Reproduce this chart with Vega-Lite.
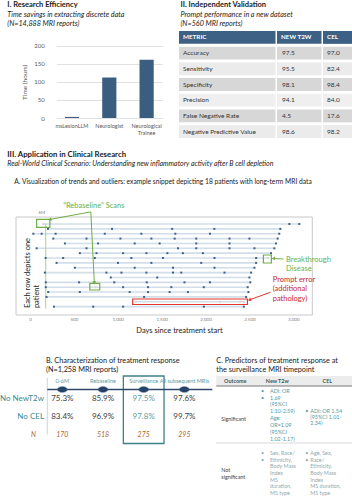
{
  "$schema": "https://vega.github.io/schema/vega-lite/v6.json",
  "background": "white",
  "padding": {"left": 0, "top": 1, "right": 0, "bottom": 0},
  "bounds": "flush",
  "spacing": 0,
  "config": {
    "font": "Lato",
    "view": {"stroke": null}
  },
  "datasets": {
    "titleI": [
      {"key": "t", "text": "I. Research Efficiency"},
      {"key": "s1", "text": "Time savings in extracting discrete data"},
      {"key": "s2", "text": "(N=14,888 MRI reports)"}
    ],
    "efficiency": [
      {"group": "msLesionLLM", "hours": 3},
      {"group": "Neurologist", "hours": 112},
      {"group": "Neurological Trainee", "hours": 161}
    ],
    "titleII": [
      {"key": "t", "text": "II. Independent Validation"},
      {"key": "s1", "text": "Prompt performance in a new dataset"},
      {"key": "s2", "text": "(N=560 MRI reports)"}
    ],
    "validation": [
      {"metric": "METRIC", "t2w": "NEW T2W", "cel": "CEL"},
      {"metric": "Accuracy", "t2w": "97.5", "cel": "97.0"},
      {"metric": "Sensitivity", "t2w": "95.5", "cel": "82.4"},
      {"metric": "Specificity", "t2w": "98.1", "cel": "98.4"},
      {"metric": "Precision", "t2w": "94.1", "cel": "84.0"},
      {"metric": "False Negative Rate", "t2w": "4.5", "cel": "17.6"},
      {"metric": "Negative Predictive Value", "t2w": "98.6", "cel": "98.2"}
    ],
    "headings": [
      {"key": "III", "text": "III. Application in Clinical Research"},
      {"key": "RW", "text": "Real-World Clinical Scenario: Understanding new inflammatory activity after B cell depletion"},
      {"key": "A", "text": "A. Visualization of trends and outliers: example snippet depicting 18 patients with long-term MRI data"}
    ],
    "scans": [
      {"row": 1, "day": 150, "status": "New T2w"}, {"row": 1, "day": 2955, "status": "No new T2w"}, {"row": 1, "day": 3068, "status": "No new T2w"},
      {"row": 2, "day": 205, "status": "No new T2w"}, {"row": 2, "day": 935, "status": "No new T2w"}, {"row": 2, "day": 1620, "status": "No new T2w"}, {"row": 2, "day": 2100, "status": "No new T2w"}, {"row": 2, "day": 2852, "status": "No new T2w"},
      {"row": 3, "day": 38, "status": "No new T2w"}, {"row": 3, "day": 133, "status": "No new T2w"}, {"row": 3, "day": 292, "status": "No new T2w"}, {"row": 3, "day": 852, "status": "No new T2w"}, {"row": 3, "day": 1269, "status": "No new T2w"}, {"row": 3, "day": 1656, "status": "No new T2w"}, {"row": 3, "day": 2050, "status": "No new T2w"}, {"row": 3, "day": 2840, "status": "No new T2w"},
      {"row": 4, "day": 265, "status": "No new T2w"}, {"row": 4, "day": 644, "status": "No new T2w"}, {"row": 4, "day": 1030, "status": "No new T2w"}, {"row": 4, "day": 1383, "status": "No new T2w"}, {"row": 4, "day": 1648, "status": "No new T2w"}, {"row": 4, "day": 1894, "status": "No new T2w"}, {"row": 4, "day": 2273, "status": "No new T2w"}, {"row": 4, "day": 2500, "status": "No new T2w"}, {"row": 4, "day": 2822, "status": "No new T2w"},
      {"row": 5, "day": 398, "status": "No new T2w"}, {"row": 5, "day": 776, "status": "No new T2w"}, {"row": 5, "day": 1193, "status": "No new T2w"}, {"row": 5, "day": 1477, "status": "No new T2w"}, {"row": 5, "day": 1894, "status": "No new T2w"}, {"row": 5, "day": 2273, "status": "No new T2w"}, {"row": 5, "day": 2803, "status": "No new T2w"},
      {"row": 6, "day": 76, "status": "No new T2w"}, {"row": 6, "day": 644, "status": "No new T2w"}, {"row": 6, "day": 1686, "status": "No new T2w"}, {"row": 6, "day": 1894, "status": "No new T2w"}, {"row": 6, "day": 2273, "status": "No new T2w"}, {"row": 6, "day": 2557, "status": "No new T2w"}, {"row": 6, "day": 2784, "status": "No new T2w"},
      {"row": 7, "day": 568, "status": "No new T2w"}, {"row": 7, "day": 758, "status": "No new T2w"}, {"row": 7, "day": 1061, "status": "No new T2w"}, {"row": 7, "day": 1326, "status": "No new T2w"}, {"row": 7, "day": 1565, "status": "No new T2w"}, {"row": 7, "day": 1742, "status": "No new T2w"}, {"row": 7, "day": 1970, "status": "No new T2w"}, {"row": 7, "day": 2746, "status": "No new T2w"},
      {"row": 8, "day": 178, "status": "No new T2w"}, {"row": 8, "day": 378, "status": "No new T2w"}, {"row": 8, "day": 739, "status": "No new T2w"}, {"row": 8, "day": 1155, "status": "No new T2w"}, {"row": 8, "day": 1515, "status": "No new T2w"}, {"row": 8, "day": 2102, "status": "No new T2w"}, {"row": 8, "day": 2576, "status": "No new T2w"}, {"row": 8, "day": 2716, "status": "New T2w"},
      {"row": 9, "day": 303, "status": "No new T2w"}, {"row": 9, "day": 1003, "status": "No new T2w"}, {"row": 9, "day": 1383, "status": "No new T2w"}, {"row": 9, "day": 1951, "status": "No new T2w"}, {"row": 9, "day": 2576, "status": "No new T2w"},
      {"row": 10, "day": 511, "status": "No new T2w"}, {"row": 10, "day": 1193, "status": "No new T2w"}, {"row": 10, "day": 1629, "status": "No new T2w"}, {"row": 10, "day": 2102, "status": "No new T2w"}, {"row": 10, "day": 2557, "status": "No new T2w"},
      {"row": 11, "day": 170, "status": "No new T2w"}, {"row": 11, "day": 871, "status": "No new T2w"}, {"row": 11, "day": 1042, "status": "No new T2w"}, {"row": 11, "day": 1326, "status": "No new T2w"}, {"row": 11, "day": 1629, "status": "No new T2w"}, {"row": 11, "day": 1723, "status": "No new T2w"}, {"row": 11, "day": 2216, "status": "No new T2w"}, {"row": 11, "day": 2519, "status": "No new T2w"},
      {"row": 12, "day": 920, "status": "No new T2w"}, {"row": 12, "day": 1450, "status": "No new T2w"}, {"row": 12, "day": 2500, "status": "No new T2w"},
      {"row": 13, "day": 180, "status": "No new T2w"}, {"row": 13, "day": 560, "status": "No new T2w"}, {"row": 13, "day": 960, "status": "No new T2w"}, {"row": 13, "day": 1330, "status": "No new T2w"}, {"row": 13, "day": 1760, "status": "No new T2w"}, {"row": 13, "day": 2050, "status": "No new T2w"}, {"row": 13, "day": 2510, "status": "No new T2w"},
      {"row": 14, "day": 180, "status": "No new T2w"}, {"row": 14, "day": 746, "status": "New T2w"}, {"row": 14, "day": 1061, "status": "No new T2w"}, {"row": 14, "day": 1345, "status": "No new T2w"}, {"row": 14, "day": 1610, "status": "No new T2w"}, {"row": 14, "day": 1980, "status": "No new T2w"}, {"row": 14, "day": 2480, "status": "No new T2w"},
      {"row": 15, "day": 208, "status": "No new T2w"}, {"row": 15, "day": 568, "status": "No new T2w"}, {"row": 15, "day": 1136, "status": "No new T2w"}, {"row": 15, "day": 1345, "status": "No new T2w"}, {"row": 15, "day": 1591, "status": "No new T2w"}, {"row": 15, "day": 1799, "status": "No new T2w"}, {"row": 15, "day": 2489, "status": "No new T2w"},
      {"row": 16, "day": 189, "status": "No new T2w"}, {"row": 16, "day": 1300, "status": "No new T2w"}, {"row": 16, "day": 2462, "status": "No new T2w"},
      {"row": 17, "day": 1205, "status": "New T2w"}, {"row": 17, "day": 2167, "status": "New T2w"}, {"row": 17, "day": 2394, "status": "New T2w"}, {"row": 17, "day": 2436, "status": "New T2w"},
      {"row": 18, "day": 273, "status": "No new T2w"}, {"row": 18, "day": 720, "status": "No new T2w"}, {"row": 18, "day": 1061, "status": "No new T2w"}, {"row": 18, "day": 1981, "status": "No new T2w"}, {"row": 18, "day": 2436, "status": "No new T2w"}
    ],
    "sixMonth": [{"day": 180, "row": 0.9, "row2": 18.4}],
    "boxes": [
      {"kind": "green", "day": 76, "day2": 227, "row": 0.03, "row2": 1.68},
      {"kind": "green", "day": 682, "day2": 795, "row": 13.2, "row2": 14.58},
      {"kind": "green", "day": 2659, "day2": 2750, "row": 7.38, "row2": 9.02},
      {"kind": "red", "day": 1170, "day2": 2477, "row": 16.43, "row2": 17.56}
    ],
    "arrows": [
      {"id": 1, "kind": "green", "day": 227, "row": 0.07, "day2": 693, "row2": -1.5},
      {"id": 2, "kind": "green", "day": 733, "row": 13.1, "day2": 693, "row2": -1.5},
      {"id": 3, "kind": "green", "day": 2773, "row": 8.1, "day2": 2886, "row2": 8.2},
      {"id": 4, "kind": "red", "day": 2500, "row": 16.6, "day2": 2739, "row2": 15.05}
    ],
    "calloutsCenter": [
      {"label": "“Rebaseline” Scans", "kind": "green", "day": 727, "row": -2.78},
      {"label": "6M", "kind": "grey", "day": 136, "row": -1.26}
    ],
    "calloutsLeft": [
      {"label": "Breakthrough", "kind": "green", "day": 2917, "row": 8.41},
      {"label": "Disease", "kind": "green", "day": 2917, "row": 10.32},
      {"label": "Prompt error", "kind": "red", "day": 2765, "row": 12.52},
      {"label": "(additional", "kind": "red", "day": 2765, "row": 14.44},
      {"label": "pathology)", "kind": "red", "day": 2765, "row": 16.43}
    ],
    "rowLabel": [
      {"label": "Each row depicts one", "day": -23, "row": 18.3},
      {"label": "patient", "day": 80, "row": 18.3}
    ],
    "titleB": [
      {"key": "l1", "text": "B. Characterization of treatment response"},
      {"key": "l2", "text": "(N=1,258 MRI reports)"}
    ],
    "response": [
      {"period": "0-6M", "noNewT2w": 0.753, "noCEL": 0.834, "n": 170},
      {"period": "Rebaseline", "noNewT2w": 0.859, "noCEL": 0.969, "n": 518},
      {"period": "Surveillance", "noNewT2w": 0.975, "noCEL": 0.978, "n": 275},
      {"period": "All subsequent MRIs", "noNewT2w": 0.976, "noCEL": 0.997, "n": 295}
    ],
    "responseRows": [{"label": "No NewT2w"}, {"label": "No CEL"}],
    "titleC": [
      {"key": "l1", "text": "C. Predictors of treatment response at"},
      {"key": "l2", "text": "the surveillance MRI timepoint"}
    ],
    "predHeads": [{"col": "Outcome"}, {"col": "New T2w"}, {"col": "CEL"}],
    "predictors": [
      {"outcome": "Significant", "label": "Significant", "t2w": "ADI: OR\n1.69\n(95%CI\n1.10-2.59)\nAge:\nOR=1.09\n(95%CI\n1.02-1.17)", "t2wBullets": "•\n\n\n\n•\n\n\n", "cel": "ADI: OR 1.54\n(95%CI 1.01-\n2.34)", "celBullets": "•\n\n"},
      {"outcome": "Not significant", "label": "Not\nsignificant", "t2w": "Sex, Race/\nEthnicity,\nBody Mass\nIndex\nMS\nduration,\nMS type", "t2wBullets": "•\n\n\n\n•\n\n", "cel": "Age, Sex,\nRace/\nEthnicity,\nBody Mass\nIndex\nMS duration,\nMS type", "celBullets": "•\n\n\n\n\n•\n"}
    ]
  },
  "vconcat": [
    {
      "width": 338.3,
      "height": 107,
      "resolve": {"scale": {"x": "independent", "y": "independent"}, "axis": {"x": "independent", "y": "independent"}},
      "layer": [
        {
          "data": {"name": "efficiency"},
          "mark": {"type": "bar", "color": "#3b5d7f"},
          "encoding": {
            "x": {"field": "group", "type": "nominal", "sort": null, "scale": {"range": [40.3, 146.3], "paddingInner": 0.62, "paddingOuter": 0.23},
              "axis": {"orient": "bottom", "title": null, "labelAngle": 0, "ticks": false, "domain": false, "labelFontSize": 5.5, "labelColor": "#595959", "labelPadding": 5, "labelLineHeight": 7, "offset": -20, "labelExpr": "datum.value == 'Neurological Trainee' ? ['Neurological', 'Trainee'] : datum.label"}},
            "y": {"field": "hours", "type": "quantitative", "scale": {"domain": [0, 200], "range": [87, 14.7]},
              "axis": {"orient": "left", "values": [0, 50, 100, 150, 200], "offset": -40.3, "title": "Time (hours)", "titleFontSize": 6.5, "titleFontWeight": "normal", "titleColor": "#595959", "titlePadding": 6, "domain": false, "ticks": false, "labelFontSize": 6, "labelColor": "#595959", "labelPadding": 12, "gridColor": "#d9d9d9", "gridWidth": 0.8}}
          }
        },
        {
          "data": {"name": "titleI"},
          "encoding": {
            "x": {"datum": "I", "type": "nominal", "bandPosition": 0, "scale": {"type": "band", "range": [0, 163], "paddingInner": 0, "paddingOuter": 0}, "axis": null},
            "y": {"field": "key", "type": "nominal", "scale": {"type": "band", "domain": ["t", "s1", "s2"], "range": [-30.75, -2.25], "paddingInner": 0, "paddingOuter": 0}, "axis": null},
            "text": {"field": "text"}
          },
          "layer": [
            {"transform": [{"filter": "datum.key == 't'"}], "mark": {"type": "text", "align": "left", "baseline": "middle", "dx": -8.7, "fontSize": 7.5, "fontWeight": "bold", "color": "#1a1a1a"}},
            {"transform": [{"filter": "datum.key != 't'"}], "mark": {"type": "text", "align": "left", "baseline": "middle", "dx": -8.7, "fontSize": 7.2, "fontStyle": "italic", "color": "#1a1a1a"}}
          ]
        },
        {
          "data": {"name": "validation"},
          "encoding": {
            "x": {"datum": "METRIC", "type": "nominal", "scale": {"range": [163, 259.5], "paddingInner": 0, "paddingOuter": 0}, "axis": null},
            "y": {"field": "metric", "type": "nominal", "sort": null, "scale": {"domain": ["METRIC", "Accuracy", "Sensitivity", "Specificity", "Precision", "False Negative Rate", "Negative Predictive Value"], "paddingInner": 0.18, "paddingOuter": 0}, "axis": null}
          },
          "layer": [
            {"mark": {"type": "rect"}, "encoding": {"color": {"field": "metric", "type": "nominal", "scale": {"domain": ["METRIC", "Accuracy", "Sensitivity", "Specificity", "Precision", "False Negative Rate", "Negative Predictive Value"], "range": ["#3d6185", "#d7d7d7", "#ebebeb", "#d7d7d7", "#efefef", "#d7d7d7", "#ebebeb"]}, "legend": null}}},
            {"transform": [{"filter": "datum.metric == 'METRIC'"}], "mark": {"type": "text", "align": "left", "dx": 4, "fontSize": 6.3, "fontWeight": "bold", "color": "white"}, "encoding": {"x": {"datum": "METRIC", "type": "nominal", "bandPosition": 0}, "text": {"field": "metric"}}},
            {"transform": [{"filter": "datum.metric != 'METRIC'"}], "mark": {"type": "text", "align": "left", "dx": 4, "fontSize": 6.5, "color": "#333333"}, "encoding": {"x": {"datum": "METRIC", "type": "nominal", "bandPosition": 0}, "text": {"field": "metric"}}}
          ]
        },
        {
          "data": {"name": "validation"},
          "encoding": {
            "x": {"datum": "NEW T2W", "type": "nominal", "scale": {"range": [261, 305.5], "paddingInner": 0, "paddingOuter": 0}, "axis": null},
            "y": {"field": "metric", "type": "nominal", "sort": null, "scale": {"domain": ["METRIC", "Accuracy", "Sensitivity", "Specificity", "Precision", "False Negative Rate", "Negative Predictive Value"], "paddingInner": 0.18, "paddingOuter": 0}, "axis": null}
          },
          "layer": [
            {"mark": {"type": "rect"}, "encoding": {"color": {"field": "metric", "type": "nominal", "scale": {"domain": ["METRIC", "Accuracy", "Sensitivity", "Specificity", "Precision", "False Negative Rate", "Negative Predictive Value"], "range": ["#3d6185", "#d7d7d7", "#ebebeb", "#d7d7d7", "#efefef", "#d7d7d7", "#ebebeb"]}, "legend": null}}},
            {"transform": [{"filter": "datum.metric == 'METRIC'"}], "mark": {"type": "text", "align": "left", "dx": 4, "fontSize": 6.3, "fontWeight": "bold", "color": "white"}, "encoding": {"x": {"datum": "NEW T2W", "type": "nominal", "bandPosition": 0}, "text": {"field": "t2w"}}},
            {"transform": [{"filter": "datum.metric != 'METRIC'"}], "mark": {"type": "text", "align": "left", "dx": 5, "fontSize": 6.5, "color": "#333333"}, "encoding": {"x": {"datum": "NEW T2W", "type": "nominal", "bandPosition": 0}, "text": {"field": "t2w"}}}
          ]
        },
        {
          "data": {"name": "validation"},
          "encoding": {
            "x": {"datum": "CEL", "type": "nominal", "scale": {"range": [307, 336], "paddingInner": 0, "paddingOuter": 0}, "axis": null},
            "y": {"field": "metric", "type": "nominal", "sort": null, "scale": {"domain": ["METRIC", "Accuracy", "Sensitivity", "Specificity", "Precision", "False Negative Rate", "Negative Predictive Value"], "paddingInner": 0.18, "paddingOuter": 0}, "axis": null}
          },
          "layer": [
            {"mark": {"type": "rect"}, "encoding": {"color": {"field": "metric", "type": "nominal", "scale": {"domain": ["METRIC", "Accuracy", "Sensitivity", "Specificity", "Precision", "False Negative Rate", "Negative Predictive Value"], "range": ["#3d6185", "#d7d7d7", "#ebebeb", "#d7d7d7", "#efefef", "#d7d7d7", "#ebebeb"]}, "legend": null}}},
            {"transform": [{"filter": "datum.metric == 'METRIC'"}], "mark": {"type": "text", "align": "left", "dx": 4, "fontSize": 6.3, "fontWeight": "bold", "color": "white"}, "encoding": {"x": {"datum": "CEL", "type": "nominal", "bandPosition": 0}, "text": {"field": "cel"}}},
            {"transform": [{"filter": "datum.metric != 'METRIC'"}], "mark": {"type": "text", "align": "left", "dx": 4, "fontSize": 6.5, "color": "#333333"}, "encoding": {"x": {"datum": "CEL", "type": "nominal", "bandPosition": 0}, "text": {"field": "cel"}}}
          ]
        },
        {
          "data": {"name": "titleII"},
          "encoding": {
            "x": {"datum": "II", "type": "nominal", "bandPosition": 0, "scale": {"type": "band", "range": [163, 338.3], "paddingInner": 0, "paddingOuter": 0}, "axis": null},
            "y": {"field": "key", "type": "nominal", "scale": {"type": "band", "domain": ["t", "s1", "s2"], "range": [-30.75, -2.25], "paddingInner": 0, "paddingOuter": 0}, "axis": null},
            "text": {"field": "text"}
          },
          "layer": [
            {"transform": [{"filter": "datum.key == 't'"}], "mark": {"type": "text", "align": "left", "baseline": "middle", "dx": 1.5, "fontSize": 7.5, "fontWeight": "bold", "color": "#1a1a1a"}},
            {"transform": [{"filter": "datum.key != 't'"}], "mark": {"type": "text", "align": "left", "baseline": "middle", "dx": 1.5, "fontSize": 7.2, "fontStyle": "italic", "color": "#1a1a1a"}}
          ]
        }
      ]
    },
    {
      "width": 296.3,
      "height": 238,
      "resolve": {"scale": {"x": "independent", "y": "independent"}, "axis": {"x": "independent", "y": "independent"}},
      "layer": [
        {
          "encoding": {
            "x": {"field": "day", "type": "quantitative", "scale": {"domain": [-159, 3216], "nice": false, "zero": false},
              "axis": {"orient": "bottom", "values": [0, 500, 1000, 1500, 2000, 2500, 3000], "offset": -61, "ticks": false, "domain": false, "grid": false, "labelFontSize": 4.5, "labelColor": "#808080", "labelPadding": 1, "title": "Days since treatment start", "titleFontSize": 7.5, "titleFontWeight": "normal", "titleColor": "#1a1a1a", "titlePadding": 6, "titleX": 163}},
            "y": {"field": "row", "type": "quantitative", "scale": {"domain": [-0.44, 19.72], "range": [79, 177], "nice": false, "zero": false}, "axis": null}
          },
          "layer": [
            {"data": {"name": "sixMonth"}, "mark": {"type": "rect", "fillOpacity": 0, "stroke": "#c8c8c8", "strokeWidth": 1},
             "encoding": {"x": {"datum": -159}, "x2": {"datum": 3216}, "y": {"datum": -0.44}, "y2": {"datum": 19.72}}},
            {"data": {"name": "scans"}, "transform": [{"aggregate": [{"op": "min", "field": "day", "as": "day"}, {"op": "max", "field": "day", "as": "day2"}], "groupby": ["row"]}],
             "mark": {"type": "rule", "color": "#d3deeb", "strokeWidth": 1.6}, "encoding": {"x2": {"field": "day2"}}},
            {"data": {"name": "sixMonth"}, "mark": {"type": "rule", "color": "#a9d18e", "strokeWidth": 1}, "encoding": {"y2": {"field": "row2"}}},
            {"data": {"name": "scans"}, "mark": {"type": "point", "shape": "square", "filled": true, "size": 4, "opacity": 1},
             "encoding": {"color": {"field": "status", "type": "nominal", "scale": {"domain": ["No new T2w", "New T2w"], "range": ["#4472c4", "#ed7d31"]},
               "legend": {"title": null, "orient": "none", "legendX": 270, "legendY": 92, "strokeColor": "#333333", "fillColor": "white", "padding": 3, "symbolType": "square", "symbolSize": 6, "labelFontSize": 6, "labelColor": "#222222", "rowPadding": 0, "symbolStrokeWidth": 0}}}},
            {"data": {"name": "boxes"}, "mark": {"type": "rect", "fillOpacity": 0, "strokeWidth": 1.2},
             "encoding": {"x2": {"field": "day2"}, "y2": {"field": "row2"}, "stroke": {"condition": {"test": "datum.kind == 'red'", "value": "#e0362c"}, "value": "#70ad47"}}},
            {"data": {"name": "arrows"}, "mark": {"type": "rule", "strokeWidth": 1},
             "encoding": {"x2": {"field": "day2"}, "y2": {"field": "row2"}, "color": {"condition": {"test": "datum.kind == 'red'", "value": "#e0362c"}, "value": "#70ad47"}}},
            {"data": {"name": "arrows"}, "mark": {"type": "point", "shape": "triangle-up", "filled": true, "size": 14, "opacity": 1},
             "encoding": {"angle": {"condition": [{"test": "datum.id == 1", "value": 259}, {"test": "datum.id == 2", "value": 177}, {"test": "datum.id == 3", "value": 267}], "value": 250},
               "color": {"condition": {"test": "datum.kind == 'red'", "value": "#e0362c"}, "value": "#70ad47"}}},
            {"data": {"name": "calloutsCenter"}, "mark": {"type": "text", "align": "center", "baseline": "middle"},
             "encoding": {"text": {"field": "label"}, "size": {"condition": {"test": "datum.kind == 'grey'", "value": 4.5}, "value": 7.5}, "color": {"condition": {"test": "datum.kind == 'grey'", "value": "#808080"}, "value": "#62b14f"}}},
            {"data": {"name": "calloutsLeft"}, "mark": {"type": "text", "align": "left", "baseline": "middle", "fontSize": 7.5},
             "encoding": {"text": {"field": "label"}, "color": {"condition": {"test": "datum.kind == 'red'", "value": "#c7262e"}, "value": "#62b14f"}}},
            {"data": {"name": "rowLabel"}, "mark": {"type": "text", "align": "left", "baseline": "middle", "angle": 270, "fontSize": 7.5, "color": "#1a1a1a"},
             "encoding": {"text": {"field": "label"}}}
          ]
        },
        {
          "data": {"name": "headings"},
          "encoding": {
            "x": {"datum": 0, "type": "quantitative", "scale": {"domain": [0, 1]}, "axis": null},
            "y": {"field": "key", "type": "nominal", "scale": {"type": "band", "domain": ["III", "RW", "_gap", "A"], "range": [12.5, 48], "paddingInner": 0, "paddingOuter": 0}, "axis": null},
            "text": {"field": "text"}
          },
          "layer": [
            {"transform": [{"filter": "datum.key == 'III'"}], "mark": {"type": "text", "align": "left", "baseline": "middle", "dx": -8.7, "fontSize": 7.8, "fontWeight": "bold", "color": "#1a1a1a"}},
            {"transform": [{"filter": "datum.key == 'RW'"}], "mark": {"type": "text", "align": "left", "baseline": "middle", "dx": -8.7, "fontSize": 7, "fontStyle": "italic", "color": "#1a1a1a"}},
            {"transform": [{"filter": "datum.key == 'A'"}], "mark": {"type": "text", "align": "left", "baseline": "middle", "dx": -1.7, "fontSize": 6.7, "color": "#1a1a1a"}}
          ]
        }
      ]
    },
    {
      "width": 338.3,
      "height": 124,
      "resolve": {"scale": {"x": "independent", "y": "independent"}, "axis": {"x": "independent", "y": "independent"}},
      "layer": [
        {
          "data": {"name": "response"},
          "encoding": {
            "x": {"field": "period", "type": "nominal", "sort": null, "scale": {"domain": ["0-6M", "Rebaseline", "Surveillance", "All subsequent MRIs"], "range": [26, 188.7], "paddingInner": 0, "paddingOuter": 0}, "axis": null}
          },
          "layer": [
            {"transform": [{"filter": "datum.period == 'Surveillance'"}], "mark": {"type": "rect", "fillOpacity": 0, "stroke": "#3f8087", "strokeWidth": 1.3},
             "encoding": {"y": {"datum": "header", "bandPosition": 0, "scale": {"domain": ["header", "track", "No NewT2w", "_a", "No CEL", "_b", "N", "_e"], "range": [0, 72], "paddingInner": 0, "paddingOuter": 0}, "axis": null}, "y2": {"datum": "_e"}}},
            {"mark": {"type": "point", "shape": "M -1 0 A 1 0.6 0 1 1 1 0 A 1 0.6 0 1 1 -1 0 Z", "filled": true, "size": 100, "color": "#1f3d5f", "stroke": "#8aa4bd", "strokeWidth": 0.6, "opacity": 1},
             "encoding": {"y": {"datum": "track"}}},
            {"mark": {"type": "text", "fontSize": 5.5, "color": "#5a9ca3"}, "encoding": {"y": {"datum": "header"}, "text": {"field": "period"}}},
            {"data": {"name": "responseRows"}, "mark": {"type": "text", "align": "right", "dx": 2, "fontSize": 8, "color": "#3a8a92"},
             "encoding": {"x": {"datum": "0-6M", "bandPosition": 0}, "y": {"field": "label", "type": "nominal"}, "text": {"field": "label"}}},
            {"transform": [{"filter": "datum.period == '0-6M'"}], "mark": {"type": "text", "align": "right", "dx": -6, "fontSize": 7, "fontStyle": "italic", "color": "#b2652f"},
             "encoding": {"x": {"datum": "0-6M", "bandPosition": 0}, "y": {"datum": "N"}, "text": {"value": "N"}}},
            {"mark": {"type": "text", "fontSize": 8},
             "encoding": {"y": {"datum": "No NewT2w"}, "text": {"field": "noNewT2w", "format": ".1%"}, "color": {"condition": {"test": "datum.period == 'Surveillance'", "value": "#5b9ea6"}, "value": "#404040"}}},
            {"mark": {"type": "text", "fontSize": 8},
             "encoding": {"y": {"datum": "No CEL"}, "text": {"field": "noCEL", "format": ".1%"}, "color": {"condition": {"test": "datum.period == 'Surveillance'", "value": "#5b9ea6"}, "value": "#404040"}}},
            {"mark": {"type": "text", "fontSize": 7, "fontStyle": "italic", "color": "#b2652f"},
             "encoding": {"y": {"datum": "N"}, "text": {"field": "n"}}}
          ]
        },
        {
          "data": {"name": "response"},
          "transform": [{"filter": "datum.period == '0-6M'"}],
          "encoding": {
            "x": {"datum": 0, "type": "quantitative", "scale": {"domain": [0, 1], "range": [31.3, 196.3]}, "axis": null}
          },
          "layer": [
            {"mark": {"type": "rule", "color": "#c9d6e3", "strokeWidth": 1},
             "encoding": {"y": {"datum": "header", "bandPosition": 0.2, "scale": {"domain": ["header", "track", "No NewT2w", "_a", "No CEL", "_b", "N", "_e"], "range": [0, 72], "paddingInner": 0, "paddingOuter": 0}, "axis": null}, "y2": {"datum": "N"}}},
            {"mark": {"type": "rule", "color": "#2d4a6a", "strokeWidth": 1.5},
             "encoding": {"x2": {"datum": 1}, "y": {"datum": "track"}}}
          ]
        },
        {
          "data": {"name": "titleB"},
          "mark": {"type": "text", "align": "left", "baseline": "middle", "dx": 30, "fontSize": 7.3, "color": "#1a1a1a"},
          "encoding": {
            "x": {"datum": "B", "type": "nominal", "bandPosition": 0, "scale": {"type": "band", "range": [0, 200], "paddingInner": 0, "paddingOuter": 0}, "axis": null},
            "y": {"field": "key", "type": "nominal", "scale": {"type": "band", "domain": ["l1", "l2"], "range": [-19.5, -1.5], "paddingInner": 0, "paddingOuter": 0}, "axis": null},
            "text": {"field": "text"}
          }
        },
        {
          "encoding": {
            "x": {"datum": 0, "type": "quantitative", "scale": {"domain": [0, 1], "range": [200.3, 338.3]}, "axis": null},
            "x2": {"datum": 1}
          },
          "resolve": {"scale": {"y": "independent"}},
          "layer": [
            {"data": {"name": "predHeads"}, "transform": [{"filter": "datum.col == 'Outcome'"}], "mark": {"type": "rect", "color": "#ececec"},
             "encoding": {"y": {"datum": "header", "type": "nominal", "scale": {"type": "band", "domain": ["header"], "range": [0, 10], "paddingInner": 0, "paddingOuter": 0}, "axis": null}}},
            {"data": {"name": "predictors"}, "mark": {"type": "rule", "strokeWidth": 0.8},
             "encoding": {"y": {"field": "outcome", "type": "nominal", "bandPosition": 0, "scale": {"type": "band", "domain": ["Significant", "Not significant"], "range": [10, 124], "paddingInner": 0, "paddingOuter": 0}, "axis": null},
               "color": {"condition": {"test": "datum.outcome == 'Significant'", "value": "#555555"}, "value": "#d0d0d0"}}}
          ]
        },
        {
          "resolve": {"scale": {"y": "independent"}},
          "encoding": {"x": {"datum": "Outcome", "type": "nominal", "scale": {"type": "band", "range": [200.3, 238.3], "paddingInner": 0, "paddingOuter": 0}, "axis": null}},
          "layer": [
            {"data": {"name": "predHeads"}, "transform": [{"filter": "datum.col == 'Outcome'"}], "mark": {"type": "text", "fontWeight": "bold", "fontSize": 5.4, "color": "#2f5e6b"},
             "encoding": {"y": {"field": "col", "type": "nominal", "scale": {"type": "band", "range": [0, 10], "paddingInner": 0, "paddingOuter": 0}, "axis": null}, "text": {"field": "col"}}},
            {"data": {"name": "predictors"}, "transform": [{"filter": "datum.outcome == 'Significant'"}],
             "mark": {"type": "text", "align": "left", "baseline": "middle", "lineBreak": "\n", "fontSize": 5.4, "lineHeight": 7, "dx": 5, "dy": 33, "color": "#404040"},
             "encoding": {"x": {"datum": "Outcome", "type": "nominal", "bandPosition": 0}, "y": {"field": "outcome", "type": "nominal", "bandPosition": 0, "scale": {"type": "band", "domain": ["Significant", "Not significant"], "range": [10, 124], "paddingInner": 0, "paddingOuter": 0}, "axis": null}, "text": {"field": "label"}}},
            {"data": {"name": "predictors"}, "transform": [{"filter": "datum.outcome == 'Not significant'"}],
             "mark": {"type": "text", "align": "left", "baseline": "middle", "lineBreak": "\n", "fontSize": 5.4, "lineHeight": 7, "dx": 5, "dy": 27, "color": "#404040"},
             "encoding": {"x": {"datum": "Outcome", "type": "nominal", "bandPosition": 0}, "y": {"field": "outcome", "type": "nominal", "bandPosition": 0, "scale": {"type": "band", "domain": ["Significant", "Not significant"], "range": [10, 124], "paddingInner": 0, "paddingOuter": 0}, "axis": null}, "text": {"field": "label"}}}
          ]
        },
        {
          "resolve": {"scale": {"y": "independent"}},
          "encoding": {"x": {"datum": "New T2w", "type": "nominal", "scale": {"type": "band", "range": [238.3, 284.3], "paddingInner": 0, "paddingOuter": 0}, "axis": null}},
          "layer": [
            {"data": {"name": "predHeads"}, "transform": [{"filter": "datum.col == 'New T2w'"}], "mark": {"type": "text", "fontWeight": "bold", "fontSize": 5.4, "color": "#2f5e6b"},
             "encoding": {"y": {"field": "col", "type": "nominal", "scale": {"type": "band", "range": [0, 10], "paddingInner": 0, "paddingOuter": 0}, "axis": null}, "text": {"field": "col"}}},
            {"data": {"name": "predictors"}, "transform": [{"filter": "datum.outcome == 'Significant'"}],
             "mark": {"type": "text", "align": "left", "baseline": "middle", "lineBreak": "\n", "fontSize": 5.4, "lineHeight": 6.9, "dx": 6.7, "dy": 4.7, "color": "#4f9ba5"},
             "encoding": {"x": {"datum": "New T2w", "type": "nominal", "bandPosition": 0}, "y": {"field": "outcome", "type": "nominal", "bandPosition": 0, "scale": {"type": "band", "domain": ["Significant", "Not significant"], "range": [10, 124], "paddingInner": 0, "paddingOuter": 0}, "axis": null}, "text": {"field": "t2wBullets"}}},
            {"data": {"name": "predictors"}, "transform": [{"filter": "datum.outcome == 'Significant'"}],
             "mark": {"type": "text", "align": "left", "baseline": "middle", "lineBreak": "\n", "fontSize": 5.4, "lineHeight": 6.9, "dx": 15.7, "dy": 4.7, "color": "#4f9ba5"},
             "encoding": {"x": {"datum": "New T2w", "type": "nominal", "bandPosition": 0}, "y": {"field": "outcome", "type": "nominal", "bandPosition": 0, "scale": {"type": "band", "domain": ["Significant", "Not significant"], "range": [10, 124], "paddingInner": 0, "paddingOuter": 0}, "axis": null}, "text": {"field": "t2w"}}},
            {"data": {"name": "predictors"}, "transform": [{"filter": "datum.outcome == 'Not significant'"}],
             "mark": {"type": "text", "align": "left", "baseline": "middle", "lineBreak": "\n", "fontSize": 5.4, "lineHeight": 6.6, "dx": 6.7, "dy": 10.3, "color": "#8fa9ae"},
             "encoding": {"x": {"datum": "New T2w", "type": "nominal", "bandPosition": 0}, "y": {"field": "outcome", "type": "nominal", "bandPosition": 0, "scale": {"type": "band", "domain": ["Significant", "Not significant"], "range": [10, 124], "paddingInner": 0, "paddingOuter": 0}, "axis": null}, "text": {"field": "t2wBullets"}}},
            {"data": {"name": "predictors"}, "transform": [{"filter": "datum.outcome == 'Not significant'"}],
             "mark": {"type": "text", "align": "left", "baseline": "middle", "lineBreak": "\n", "fontSize": 5.4, "lineHeight": 6.6, "dx": 15.7, "dy": 10.3, "color": "#8fa9ae"},
             "encoding": {"x": {"datum": "New T2w", "type": "nominal", "bandPosition": 0}, "y": {"field": "outcome", "type": "nominal", "bandPosition": 0, "scale": {"type": "band", "domain": ["Significant", "Not significant"], "range": [10, 124], "paddingInner": 0, "paddingOuter": 0}, "axis": null}, "text": {"field": "t2w"}}}
          ]
        },
        {
          "resolve": {"scale": {"y": "independent"}},
          "encoding": {"x": {"datum": "CEL", "type": "nominal", "scale": {"type": "band", "range": [284.3, 338.3], "paddingInner": 0, "paddingOuter": 0}, "axis": null}},
          "layer": [
            {"data": {"name": "predHeads"}, "transform": [{"filter": "datum.col == 'CEL'"}], "mark": {"type": "text", "fontWeight": "bold", "fontSize": 5.4, "color": "#2f5e6b"},
             "encoding": {"y": {"field": "col", "type": "nominal", "scale": {"type": "band", "range": [0, 10], "paddingInner": 0, "paddingOuter": 0}, "axis": null}, "text": {"field": "col"}}},
            {"data": {"name": "predictors"}, "transform": [{"filter": "datum.outcome == 'Significant'"}],
             "mark": {"type": "text", "align": "left", "baseline": "middle", "lineBreak": "\n", "fontSize": 5.4, "lineHeight": 6.4, "dx": 5, "dy": 24.7, "color": "#4f9ba5"},
             "encoding": {"x": {"datum": "CEL", "type": "nominal", "bandPosition": 0}, "y": {"field": "outcome", "type": "nominal", "bandPosition": 0, "scale": {"type": "band", "domain": ["Significant", "Not significant"], "range": [10, 124], "paddingInner": 0, "paddingOuter": 0}, "axis": null}, "text": {"field": "celBullets"}}},
            {"data": {"name": "predictors"}, "transform": [{"filter": "datum.outcome == 'Significant'"}],
             "mark": {"type": "text", "align": "left", "baseline": "middle", "lineBreak": "\n", "fontSize": 5.4, "lineHeight": 6.4, "dx": 10, "dy": 24.7, "color": "#4f9ba5"},
             "encoding": {"x": {"datum": "CEL", "type": "nominal", "bandPosition": 0}, "y": {"field": "outcome", "type": "nominal", "bandPosition": 0, "scale": {"type": "band", "domain": ["Significant", "Not significant"], "range": [10, 124], "paddingInner": 0, "paddingOuter": 0}, "axis": null}, "text": {"field": "cel"}}},
            {"data": {"name": "predictors"}, "transform": [{"filter": "datum.outcome == 'Not significant'"}],
             "mark": {"type": "text", "align": "left", "baseline": "middle", "lineBreak": "\n", "fontSize": 5.4, "lineHeight": 6.6, "dx": 5, "dy": 10.3, "color": "#8fa9ae"},
             "encoding": {"x": {"datum": "CEL", "type": "nominal", "bandPosition": 0}, "y": {"field": "outcome", "type": "nominal", "bandPosition": 0, "scale": {"type": "band", "domain": ["Significant", "Not significant"], "range": [10, 124], "paddingInner": 0, "paddingOuter": 0}, "axis": null}, "text": {"field": "celBullets"}}},
            {"data": {"name": "predictors"}, "transform": [{"filter": "datum.outcome == 'Not significant'"}],
             "mark": {"type": "text", "align": "left", "baseline": "middle", "lineBreak": "\n", "fontSize": 5.4, "lineHeight": 6.6, "dx": 10, "dy": 10.3, "color": "#8fa9ae"},
             "encoding": {"x": {"datum": "CEL", "type": "nominal", "bandPosition": 0}, "y": {"field": "outcome", "type": "nominal", "bandPosition": 0, "scale": {"type": "band", "domain": ["Significant", "Not significant"], "range": [10, 124], "paddingInner": 0, "paddingOuter": 0}, "axis": null}, "text": {"field": "cel"}}}
          ]
        },
        {
          "data": {"name": "titleC"},
          "mark": {"type": "text", "align": "left", "baseline": "middle", "fontSize": 7.3, "color": "#1a1a1a"},
          "encoding": {
            "x": {"datum": "C", "type": "nominal", "bandPosition": 0, "scale": {"type": "band", "range": [200.3, 338.3], "paddingInner": 0, "paddingOuter": 0}, "axis": null},
            "y": {"field": "key", "type": "nominal", "scale": {"type": "band", "domain": ["l1", "l2"], "range": [-19.5, -1.5], "paddingInner": 0, "paddingOuter": 0}, "axis": null},
            "text": {"field": "text"}
          }
        }
      ]
    }
  ]
}
